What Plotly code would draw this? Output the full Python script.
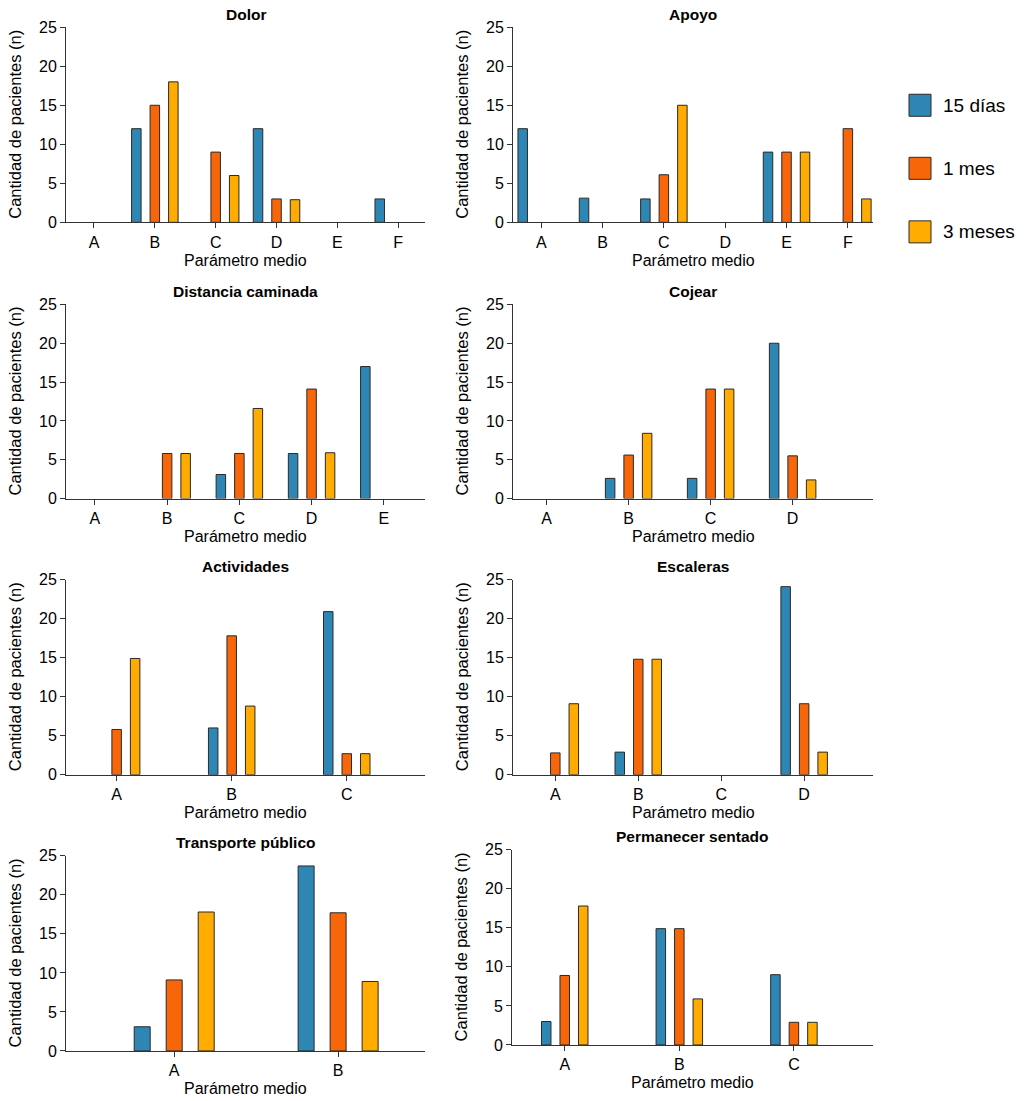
import plotly.graph_objects as go

# ---------------- data ----------------
series_names = ["15 días", "1 mes", "3 meses"]

dolor_cats = ["A", "B", "C", "D", "E", "F"]
dolor_15d = [0, 12, 0, 12, 0, 3]
dolor_1m = [0, 15, 9, 3, 0, 0]
dolor_3m = [0, 18, 6, 2.9, 0, 0]

apoyo_cats = ["A", "B", "C", "D", "E", "F"]
apoyo_15d = [12, 3.1, 3, 0, 9, 0]
apoyo_1m = [0, 0, 6.1, 0, 9, 12]
apoyo_3m = [0, 0, 15, 0, 9, 3]

dist_cats = ["A", "B", "C", "D", "E"]
dist_15d = [0, 0, 3.1, 5.8, 17]
dist_1m = [0, 5.8, 5.8, 14.1, 0]
dist_3m = [0, 5.8, 11.6, 5.9, 0]

cojear_cats = ["A", "B", "C", "D"]
cojear_15d = [0, 2.6, 2.6, 20]
cojear_1m = [0, 5.6, 14.1, 5.5]
cojear_3m = [0, 8.4, 14.1, 2.4]

activ_cats = ["A", "B", "C"]
activ_15d = [0, 6, 20.9]
activ_1m = [5.8, 17.8, 2.7]
activ_3m = [14.9, 8.8, 2.7]

escal_cats = ["A", "B", "C", "D"]
escal_15d = [0, 2.9, 0, 24.1]
escal_1m = [2.8, 14.8, 0, 9.1]
escal_3m = [9.1, 14.8, 0, 2.9]

transp_cats = ["A", "B"]
transp_15d = [3.1, 23.7]
transp_1m = [9.1, 17.7]
transp_3m = [17.8, 8.9]

perm_cats = ["A", "B", "C"]
perm_15d = [3, 14.9, 9]
perm_1m = [8.9, 14.9, 2.9]
perm_3m = [17.8, 5.9, 2.9]

y_ticks = [0, 5, 10, 15, 20, 25]

panels = [
    ("Dolor", dolor_cats, [dolor_15d, dolor_1m, dolor_3m]),
    ("Apoyo", apoyo_cats, [apoyo_15d, apoyo_1m, apoyo_3m]),
    ("Distancia caminada", dist_cats, [dist_15d, dist_1m, dist_3m]),
    ("Cojear", cojear_cats, [cojear_15d, cojear_1m, cojear_3m]),
    ("Actividades", activ_cats, [activ_15d, activ_1m, activ_3m]),
    ("Escaleras", escal_cats, [escal_15d, escal_1m, escal_3m]),
    ("Transporte público", transp_cats, [transp_15d, transp_1m, transp_3m]),
    ("Permanecer sentado", perm_cats, [perm_15d, perm_1m, perm_3m]),
]

# ---------------- styles / layout ----------------
colors = ["#2E86B5", "#F8660A", "#FFAB00"]
edge = "#2a2a2a"
axis_color = "#333333"
FONT = "Liberation Sans, Arial, sans-serif"

# vertical calibration of the capture (image y = SY * page y + CY)
SY, CY = 0.984, 7.8
W, H = 1024, 1112

# pixel boxes in reference coords (left, right, top, bottom), x-range,
# bar width px, bar step px
boxes = [
    (66, 425, 27, 222, (-0.46, 5.44), 9.5, 18.5),
    (513, 873, 27, 222, (-0.46, 5.41), 9.5, 18.5),
    (66, 425, 304, 498, (-0.40, 4.57), 9.5, 18.5),
    (513, 873, 304, 498, (-0.41, 3.98), 9.5, 18.5),
    (66, 425, 579, 774, (-0.44, 2.68), 9.5, 18.5),
    (513, 873, 579, 774, (-0.51, 3.83), 9.5, 18.5),
    (66, 425, 855, 1050, (-0.66, 1.53), 16, 32),
    (512, 873, 849, 1044, (-0.46, 2.69), 9.5, 18.5),
]

fig = go.Figure()
annotations = []
shapes = []


def px_x(p):
    return p / W


def px_y(p):
    return 1 - ((p - CY) / SY) / H


for i, ((title, cats, vals), (l, r, t, b, xr, bw, step)) in enumerate(zip(panels, boxes)):
    n = i + 1
    xa = "x" if n == 1 else f"x{n}"
    ya = "y" if n == 1 else f"y{n}"
    unit_px = (r - l) / (xr[1] - xr[0])
    w_u = bw / unit_px
    s_u = step / unit_px
    for k, (name, v) in enumerate(zip(series_names, vals)):
        center = (k - 1) * s_u
        fig.add_trace(go.Bar(
            x=cats, y=[val if val != 0 else None for val in v],
            name=name, xaxis=xa, yaxis=ya,
            width=w_u, offset=center - w_u / 2,
            marker=dict(color=colors[k], line=dict(color=edge, width=1)),
            showlegend=False, hoverinfo="x+y+name",
        ))
    xkey = "xaxis" if n == 1 else f"xaxis{n}"
    ykey = "yaxis" if n == 1 else f"yaxis{n}"
    fig.layout[xkey] = dict(
        domain=[px_x(l), px_x(r)], anchor=ya, type="category",
        categoryorder="array", categoryarray=cats, range=list(xr),
        showline=True, linecolor=axis_color, linewidth=1,
        ticks="outside", ticklen=5, tickcolor=axis_color, tickwidth=1,
        showgrid=False, zeroline=False,
        tickfont=dict(family=FONT, size=16, color="black"),
        fixedrange=True,
    )
    fig.layout[ykey] = dict(
        domain=[px_y(b), px_y(t)], anchor=xa, range=[0, 25],
        tickvals=y_ticks,
        showline=True, linecolor=axis_color, linewidth=1,
        ticks="outside", ticklen=5, tickcolor=axis_color, tickwidth=1,
        showgrid=False, zeroline=False,
        tickfont=dict(family=FONT, size=16, color="black"),
        fixedrange=True,
    )
    cx = (l + r) / 2
    annotations.append(dict(
        text=f"<b>{title}</b>", x=px_x(cx), y=px_y(t - 13), xref="paper", yref="paper",
        xanchor="center", yanchor="middle", showarrow=False,
        font=dict(family=FONT, size=15.5, color="black"),
    ))
    annotations.append(dict(
        text="Parámetro medio", x=px_x(cx), y=px_y(b + 38), xref="paper", yref="paper",
        xanchor="center", yanchor="middle", showarrow=False,
        font=dict(family=FONT, size=16, color="black"),
    ))
    annotations.append(dict(
        text="Cantidad de pacientes (n)", x=px_x(l - 51), y=px_y((t + b) / 2),
        xref="paper", yref="paper", xanchor="center", yanchor="middle",
        textangle=-90, showarrow=False,
        font=dict(family=FONT, size=16.5, color="black"),
    ))

# legend (drawn as swatches + labels)
legend_rows = [105, 168, 231.5]
for k, (name, yc) in enumerate(zip(series_names, legend_rows)):
    shapes.append(dict(
        type="rect", xref="paper", yref="paper",
        x0=px_x(909), x1=px_x(931), y0=px_y(yc - 11), y1=px_y(yc + 11),
        fillcolor=colors[k], line=dict(color=edge, width=1),
    ))
    annotations.append(dict(
        text=name, x=px_x(941), y=px_y(yc), xref="paper", yref="paper",
        xanchor="left", yanchor="middle", showarrow=False,
        font=dict(family=FONT, size=19, color="black"),
    ))

fig.update_layout(
    width=W, height=H, barmode="overlay",
    margin=dict(l=0, r=0, t=0, b=0),
    paper_bgcolor="white", plot_bgcolor="white",
    annotations=annotations, shapes=shapes,
    font=dict(family=FONT, color="black"),
    showlegend=False,
)

fig.write_html(
    "out.html",
    config={"displayModeBar": False},
    post_script="document.body.style.margin='0px';",
)
